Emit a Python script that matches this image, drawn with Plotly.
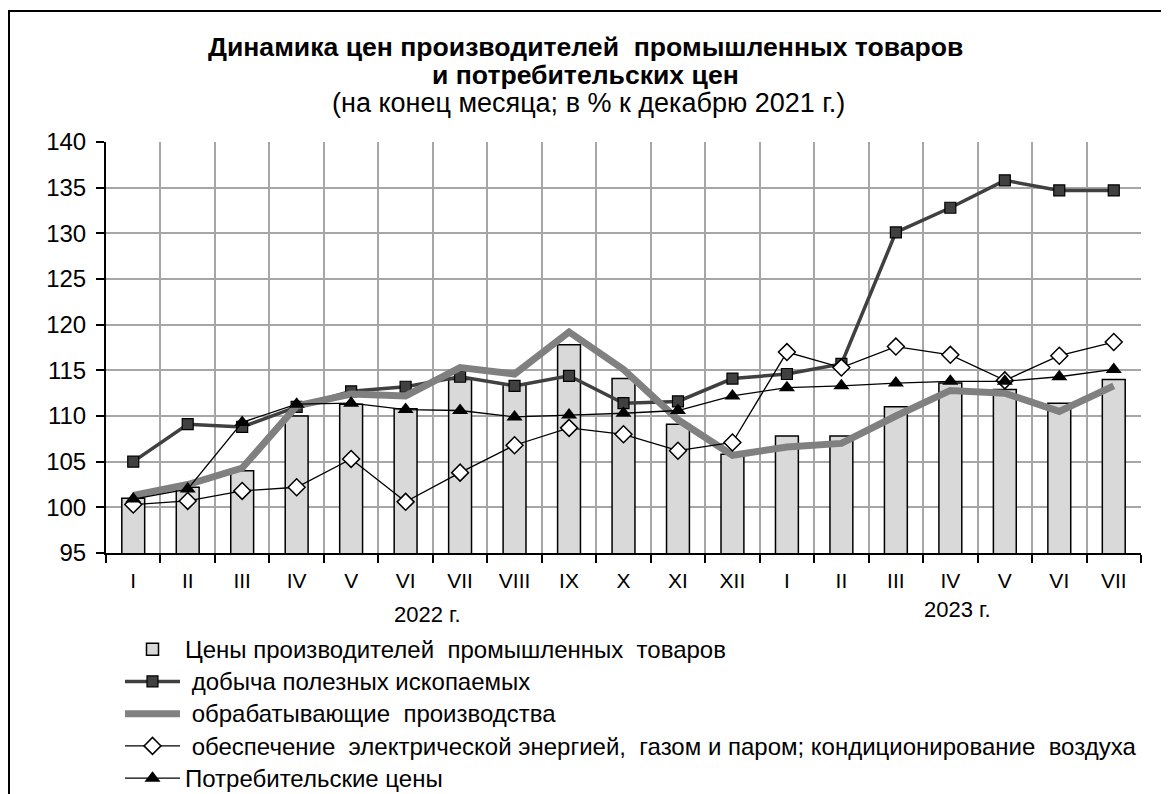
import plotly.graph_objects as go

months = ["I", "II", "III", "IV", "V", "VI", "VII", "VIII", "IX", "X", "XI", "XII",
          "I", "II", "III", "IV", "V", "VI", "VII"]
years = ["2022 г.", "2023 г."]

producer_prices = [101.0, 102.2, 104.0, 110.0, 111.3, 110.8, 114.0, 113.5, 117.8, 114.1,
                   109.1, 105.8, 107.8, 107.8, 111.0, 113.6, 112.9, 111.4, 114.0]
mining = [105.0, 109.1, 108.8, 111.0, 112.7, 113.2, 114.3, 113.3, 114.4, 111.4,
          111.6, 114.1, 114.6, 115.7, 130.1, 132.8, 135.8, 134.7, 134.7]
manufacturing = [101.3, 102.5, 104.3, 111.1, 112.4, 112.2, 115.3, 114.6, 119.2, 115.1,
                 109.6, 105.7, 106.6, 107.0, 110.0, 112.8, 112.5, 110.5, 113.3]
electricity = [100.3, 100.7, 101.8, 102.2, 105.3, 100.6, 103.8, 106.8, 108.7, 108.0,
               106.2, 107.1, 117.0, 115.3, 117.6, 116.7, 113.9, 116.6, 118.1]
consumer = [100.9, 102.0, 109.3, 111.3, 111.4, 110.7, 110.6, 109.9, 110.1, 110.3,
            110.6, 112.2, 113.1, 113.3, 113.6, 113.8, 113.8, 114.3, 115.1]

names = [
    "Цены производителей  промышленных  товаров",
    " добыча полезных ископаемых",
    " обрабатывающие  производства",
    " обеспечение  электрической энергией,  газом и паром; кондиционирование  воздуха",
    "Потребительские цены",
]
title_lines = [
    "Динамика цен производителей  промышленных товаров",
    "и потребительских цен",
    "(на конец месяца; в % к декабрю 2021 г.)",
]

x = list(range(len(months)))
FONT = "Liberation Sans, Arial, sans-serif"

# plot area (figure coords): left 98, right 1133, top 134, bottom 545
L, R, T, B = 98, 1133, 134, 545
W_FIG, H_FIG = 1169, 794
PW, PH = R - L, B - T


def px_to_paper_y(yfig):
    return (B - yfig) / PH


def px_to_paper_x(xfig):
    return (xfig - L) / PW


def legend_label(s):
    return '<span style="font-size:24px">' + s + "</span>"


fig = go.Figure()
fig.add_trace(go.Bar(
    x=x, y=producer_prices, name=legend_label(names[0]), width=0.42,
    marker=dict(color="#d9d9d9", line=dict(color="#000000", width=1.5)),
    legendgroup="g0",
))
fig.add_trace(go.Scatter(
    x=x, y=mining, name=legend_label(names[1]), mode="lines+markers", legendgroup="g1",
    line=dict(color="#404040", width=3.5),
    marker=dict(symbol="square", size=11, color="#404040", line=dict(color="#000000", width=1.2)),
))
fig.add_trace(go.Scatter(
    x=x, y=manufacturing, name=legend_label(names[2]), mode="lines", legendgroup="g2",
    line=dict(color="#808080", width=7),
))
fig.add_trace(go.Scatter(
    x=x, y=electricity, name=legend_label(names[3]), mode="lines+markers", legendgroup="g3",
    line=dict(color="#000000", width=1.3),
    marker=dict(symbol="diamond", size=13, color="#ffffff", line=dict(color="#000000", width=1.5)),
))
fig.add_trace(go.Scatter(
    x=x, y=consumer, name=legend_label(names[4]), mode="lines+markers", legendgroup="g4",
    line=dict(color="#000000", width=1.3),
    marker=dict(symbol="triangle-up", size=14, color="#000000", line=dict(color="#000000", width=0)),
))

fig.update_layout(
    width=W_FIG, height=H_FIG,
    margin=dict(l=L, r=W_FIG - R, t=T, b=H_FIG - B, autoexpand=False),
    paper_bgcolor="#ffffff", plot_bgcolor="#ffffff",
    font=dict(family=FONT, color="#000000", size=21),
    showlegend=True,
    legend=dict(
        xref="paper", x=px_to_paper_x(112), xanchor="left",
        yref="container", y=1 - 620 / H_FIG, yanchor="top",
        orientation="v", traceorder="normal", tracegroupgap=0,
        font=dict(family=FONT, size=22.5, color="#000000"),
        bgcolor="rgba(0,0,0,0)", itemwidth=55,
    ),
)

fig.update_xaxes(
    range=[-0.5, len(months) - 0.5],
    tickmode="array", tickvals=x, ticktext=months,
    showgrid=False, ticks="", tickfont=dict(size=21),
    showline=True, linecolor="#000000", linewidth=2,
    zeroline=False, ticklabelstandoff=8,
    minor=dict(tick0=-0.5, dtick=1, showgrid=True, gridcolor="#a6a6a6", gridwidth=1.5,
               ticks="outside", ticklen=8, tickcolor="#000000", tickwidth=1.5),
)
fig.update_yaxes(
    range=[95, 140], tick0=95, dtick=5,
    showgrid=True, gridcolor="#a6a6a6", gridwidth=1.5,
    showline=True, linecolor="#000000", linewidth=2,
    ticks="outside", ticklen=8, tickcolor="#000000", tickwidth=1.5,
    zeroline=False, tickfont=dict(size=24), ticklabelstandoff=5,
)

# title lines
fig.add_annotation(x=px_to_paper_x(577), y=px_to_paper_y(39), xref="paper", yref="paper",
                   text="<b>" + title_lines[0] + "</b>", showarrow=False,
                   font=dict(size=26.6), xanchor="center", yanchor="middle")
fig.add_annotation(x=px_to_paper_x(577), y=px_to_paper_y(67), xref="paper", yref="paper",
                   text="<b>" + title_lines[1] + "</b>", showarrow=False,
                   font=dict(size=26.6), xanchor="center", yanchor="middle")
fig.add_annotation(x=px_to_paper_x(580), y=px_to_paper_y(95), xref="paper", yref="paper",
                   text=title_lines[2], showarrow=False,
                   font=dict(size=27), xanchor="center", yanchor="middle")

# year labels under the month axis
fig.add_annotation(x=5.41, y=px_to_paper_y(606), xref="x", yref="paper", text=years[0],
                   showarrow=False, font=dict(size=22), xanchor="center", yanchor="middle")
fig.add_annotation(x=15.14, y=px_to_paper_y(601), xref="x", yref="paper", text=years[1],
                   showarrow=False, font=dict(size=22), xanchor="center", yanchor="middle")

# outer frame (cut off at right/bottom like the reference)
fig.add_shape(type="rect", xref="paper", yref="paper",
              x0=px_to_paper_x(1), x1=px_to_paper_x(1200),
              y0=px_to_paper_y(820), y1=px_to_paper_y(3),
              line=dict(color="#000000", width=2), fillcolor="rgba(0,0,0,0)", layer="below")

fig.write_html("out.html")
